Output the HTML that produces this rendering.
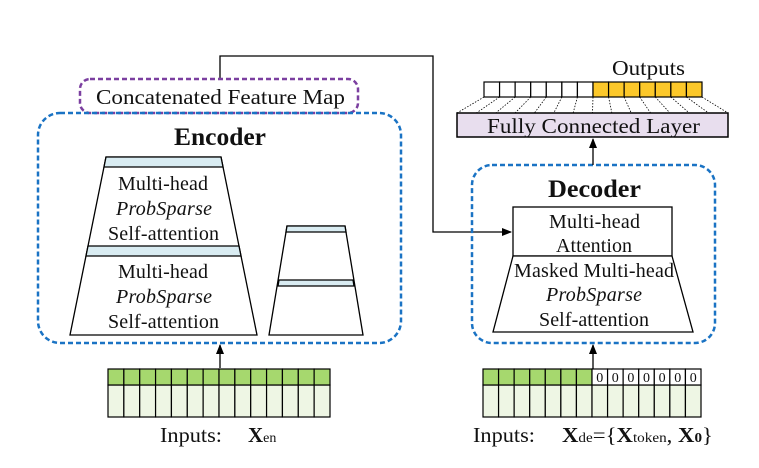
<!DOCTYPE html>
<html><head><meta charset="utf-8"><style>body{margin:0;background:#fff}svg{display:block}text{font-family:"Liberation Serif",serif;fill:#111}</style></head><body>
<svg id="s" width="759" height="468" viewBox="0 0 759 468" xmlns="http://www.w3.org/2000/svg">
<defs><marker id="a" markerWidth="10" markerHeight="10" refX="9" refY="5" orient="auto" markerUnits="userSpaceOnUse"><path d="M0,1 L10,5 L0,9 z" fill="#000"/></marker></defs>
<polyline points="220,79 220,56 433,56 433,232 511,232" fill="none" stroke="#000" stroke-width="1.3" marker-end="url(#a)"/>
<rect x="80" y="79" width="278" height="34" rx="10" fill="none" stroke="#7b3fa0" stroke-width="2.5" stroke-dasharray="5,3"/>
<text x="96" y="104" font-size="21" textLength="249" lengthAdjust="spacingAndGlyphs">Concatenated Feature Map</text>
<rect x="38" y="113" width="363" height="230" rx="22" fill="none" stroke="#1a73c4" stroke-width="2.5" stroke-dasharray="5,3"/>
<text x="174" y="145" font-size="25" font-weight="bold" textLength="92" lengthAdjust="spacingAndGlyphs">Encoder</text>
<polygon points="106,157 221,157 257,335 70,335" fill="#fff" stroke="#000" stroke-width="1.3"/>
<polygon points="106,157 221,157 223,167 104,167" fill="#d9ecf2" stroke="#000" stroke-width="1.3"/>
<polygon points="88,246 239,246 241,256 86,256" fill="#d9ecf2" stroke="#000" stroke-width="1.3"/>
<g font-size="20" lengthAdjust="spacingAndGlyphs">
<text x="118" y="190" textLength="90">Multi-head</text><text x="116" y="215" font-style="italic" textLength="96">ProbSparse</text><text x="108" y="240" textLength="111">Self-attention</text>
<text x="118" y="278" textLength="90">Multi-head</text><text x="116" y="303" font-style="italic" textLength="96">ProbSparse</text><text x="108" y="328" textLength="111">Self-attention</text>
</g>
<polygon points="287,226 345,226 363,335 269,335" fill="#fff" stroke="#000" stroke-width="1.3"/>
<polygon points="287,226 345,226 346,232 286,232" fill="#d9ecf2" stroke="#000" stroke-width="1.3"/>
<polygon points="279,280 353,280 354,286 278,286" fill="#d9ecf2" stroke="#000" stroke-width="1.3"/>
<rect x="472" y="165" width="243" height="178" rx="20" fill="none" stroke="#1a73c4" stroke-width="2.5" stroke-dasharray="5,3"/>
<text x="548" y="197" font-size="25" font-weight="bold" textLength="93" lengthAdjust="spacingAndGlyphs">Decoder</text>
<rect x="513" y="207" width="159" height="49" fill="#fff" stroke="#000" stroke-width="1.3"/>
<polygon points="513,256 672,256 693,332 493,332" fill="#fff" stroke="#000" stroke-width="1.3"/>
<g font-size="20" lengthAdjust="spacingAndGlyphs">
<text x="549" y="228" textLength="91">Multi-head</text><text x="556" y="252" textLength="76">Attention</text>
<text x="514" y="277" textLength="160">Masked Multi-head</text><text x="546" y="301" font-style="italic" textLength="96">ProbSparse</text><text x="539" y="326" textLength="110">Self-attention</text>
</g>
<line x1="220" y1="368" x2="220" y2="345" stroke="#000" stroke-width="1.3" marker-end="url(#a)"/>
<line x1="593" y1="369" x2="593" y2="345" stroke="#000" stroke-width="1.3" marker-end="url(#a)"/>
<line x1="593" y1="165" x2="593" y2="139" stroke="#000" stroke-width="1.3" marker-end="url(#a)"/>
<rect x="457" y="113" width="271" height="24" fill="#e8deee" stroke="#000" stroke-width="1.5"/>
<text x="487" y="133" font-size="21" textLength="213" lengthAdjust="spacingAndGlyphs">Fully Connected Layer</text>
<text x="612" y="75" font-size="21" textLength="73" lengthAdjust="spacingAndGlyphs">Outputs</text>
<g id="cells"></g>
<g font-size="14" text-anchor="middle">
<text x="599.7" y="382">0</text><text x="615.3" y="382">0</text><text x="630.9" y="382">0</text><text x="646.5" y="382">0</text><text x="662.1" y="382">0</text><text x="677.7" y="382">0</text><text x="693.3" y="382">0</text>
</g>
<text x="160" y="442" font-size="21" textLength="62" lengthAdjust="spacingAndGlyphs">Inputs:</text>
<text x="248" y="442" font-size="21" font-weight="bold">X<tspan font-size="14" font-weight="normal">en</tspan></text>
<text x="473" y="442" font-size="21" textLength="62" lengthAdjust="spacingAndGlyphs">Inputs:</text>
<text x="562" y="442" font-size="21" textLength="151" lengthAdjust="spacingAndGlyphs"><tspan font-weight="bold">X</tspan><tspan font-size="14">de</tspan>={<tspan font-weight="bold">X</tspan><tspan font-size="14">token</tspan>, <tspan font-weight="bold">X</tspan><tspan font-size="14" font-weight="bold">0</tspan>}</text>
</svg>
<script>
var g=document.getElementById('cells'),NS='http://www.w3.org/2000/svg';
function r(x,y,w,h,f,sw){var e=document.createElementNS(NS,'rect');e.setAttribute('x',x);e.setAttribute('y',y);e.setAttribute('width',w);e.setAttribute('height',h);e.setAttribute('fill',f);e.setAttribute('stroke','#000');e.setAttribute('stroke-width',sw||1.2);g.appendChild(e);}
function l(x1,y1,x2,y2,d){var e=document.createElementNS(NS,'line');e.setAttribute('x1',x1);e.setAttribute('y1',y1);e.setAttribute('x2',x2);e.setAttribute('y2',y2);e.setAttribute('stroke','#000');e.setAttribute('stroke-width',0.8);if(d)e.setAttribute('stroke-dasharray','1.5,1.5');g.appendChild(e);}
var w=(330-108)/14;
for(var i=0;i<14;i++){r(108+i*w,385,w,32,'#eef6e4');r(108+i*w,369,w,16,'#a6d86e');}
w=(701-483)/14;
for(var i=0;i<14;i++){r(483+i*w,385,w,32,'#eef6e4');r(483+i*w,369,w,16,i<7?'#a6d86e':'#fff');}
w=(702-484)/14;
for(var i=0;i<=14;i++){l(484+i*w,97,457+i*(271/14),113,true);}
for(var i=0;i<14;i++){r(484+i*w,82,w,15,i<7?'#fff':'#fcc82a');}
</script>
</body></html>
